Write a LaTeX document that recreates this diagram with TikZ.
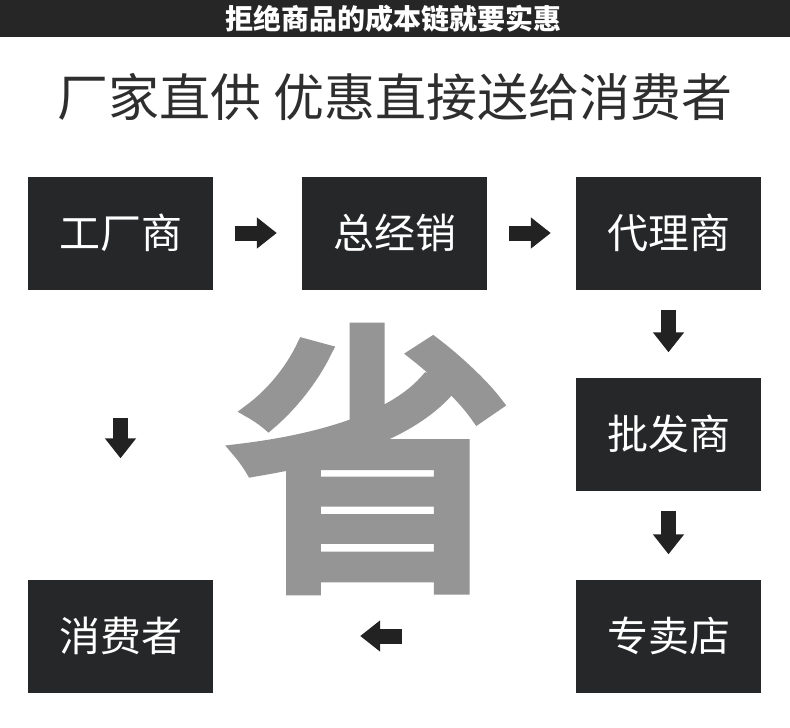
\documentclass[tikz,border=0pt]{standalone}
\usepackage{fontspec}
\usetikzlibrary{arrows.meta,calc}
\newfontfamily\cjk{Noto Sans CJK SC}
\newfontfamily\cjkheavy{Noto Sans CJK SC}[FakeBold=5]
\definecolor{boxdark}{HTML}{262728}
\definecolor{bardark}{HTML}{262626}
\definecolor{arrowdark}{HTML}{222222}
\definecolor{titlegray}{HTML}{2E2E2E}
\definecolor{bigsave}{HTML}{959595}
\tikzset{
  stagebox/.style={fill=boxdark, draw=none, minimum width=185pt, minimum height=113pt,
    inner sep=0pt, text=white, font=\cjk\fontsize{41pt}{41pt}\selectfont},
  bigarrow/.style={draw=arrowdark, line width=15pt,
    -{Triangle[length=20pt,width=30pt]}}
}
\begin{document}
\begin{tikzpicture}[x=1pt,y=-1pt]
\useasboundingbox (0,0) rectangle (790,728);
\fill[white] (0,0) rectangle (790,728);
% top bar
\fill[bardark] (0,0) rectangle (790,37);
\node[text=white, inner sep=0pt, font=\cjk\bfseries\fontsize{28pt}{28pt}\selectfont] (bartitle) at (393,19) {拒绝商品的成本链就要实惠};
% title
\node[text=titlegray, inner sep=0pt, font=\cjk\fontsize{51pt}{51pt}\selectfont] (maintitle) at (395,97) {厂家直供 优惠直接送给消费者};
% big character
\node[text=bigsave, inner sep=0pt, font=\cjkheavy\fontsize{282pt}{282pt}\selectfont] (save) at (370,459) {省};
% boxes
\node[stagebox] (factory) at (120.5,233) {工厂商};
\node[stagebox] (general) at (394.5,233) {总经销};
\node[stagebox] (agent) at (668.5,233) {代理商};
\node[stagebox] (wholesale) at (668.5,434) {批发商};
\node[stagebox] (store) at (668.5,636) {专卖店};
\node[stagebox] (consumer) at (120.5,636) {消费者};
% arrows
\draw[bigarrow] ($(factory.east)+(22,0)$) -- ($(general.west)+(-25,0)$);
\draw[bigarrow] ($(general.east)+(22,0)$) -- ($(agent.west)+(-25,0)$);
\draw[bigarrow] ($(agent.south)+(0,20)$) -- ($(wholesale.north)+(0,-25)$);
\draw[bigarrow] ($(wholesale.south)+(0,20)$) -- ($(store.north)+(0,-25)$);
\draw[bigarrow] ($(store.west)+(-174,0)$) -- ($(consumer.east)+(147,0)$);
\draw[bigarrow] ($(factory.south)+(0,128)$) -- ($(consumer.north)+(0,-121)$);
\end{tikzpicture}
\end{document}
